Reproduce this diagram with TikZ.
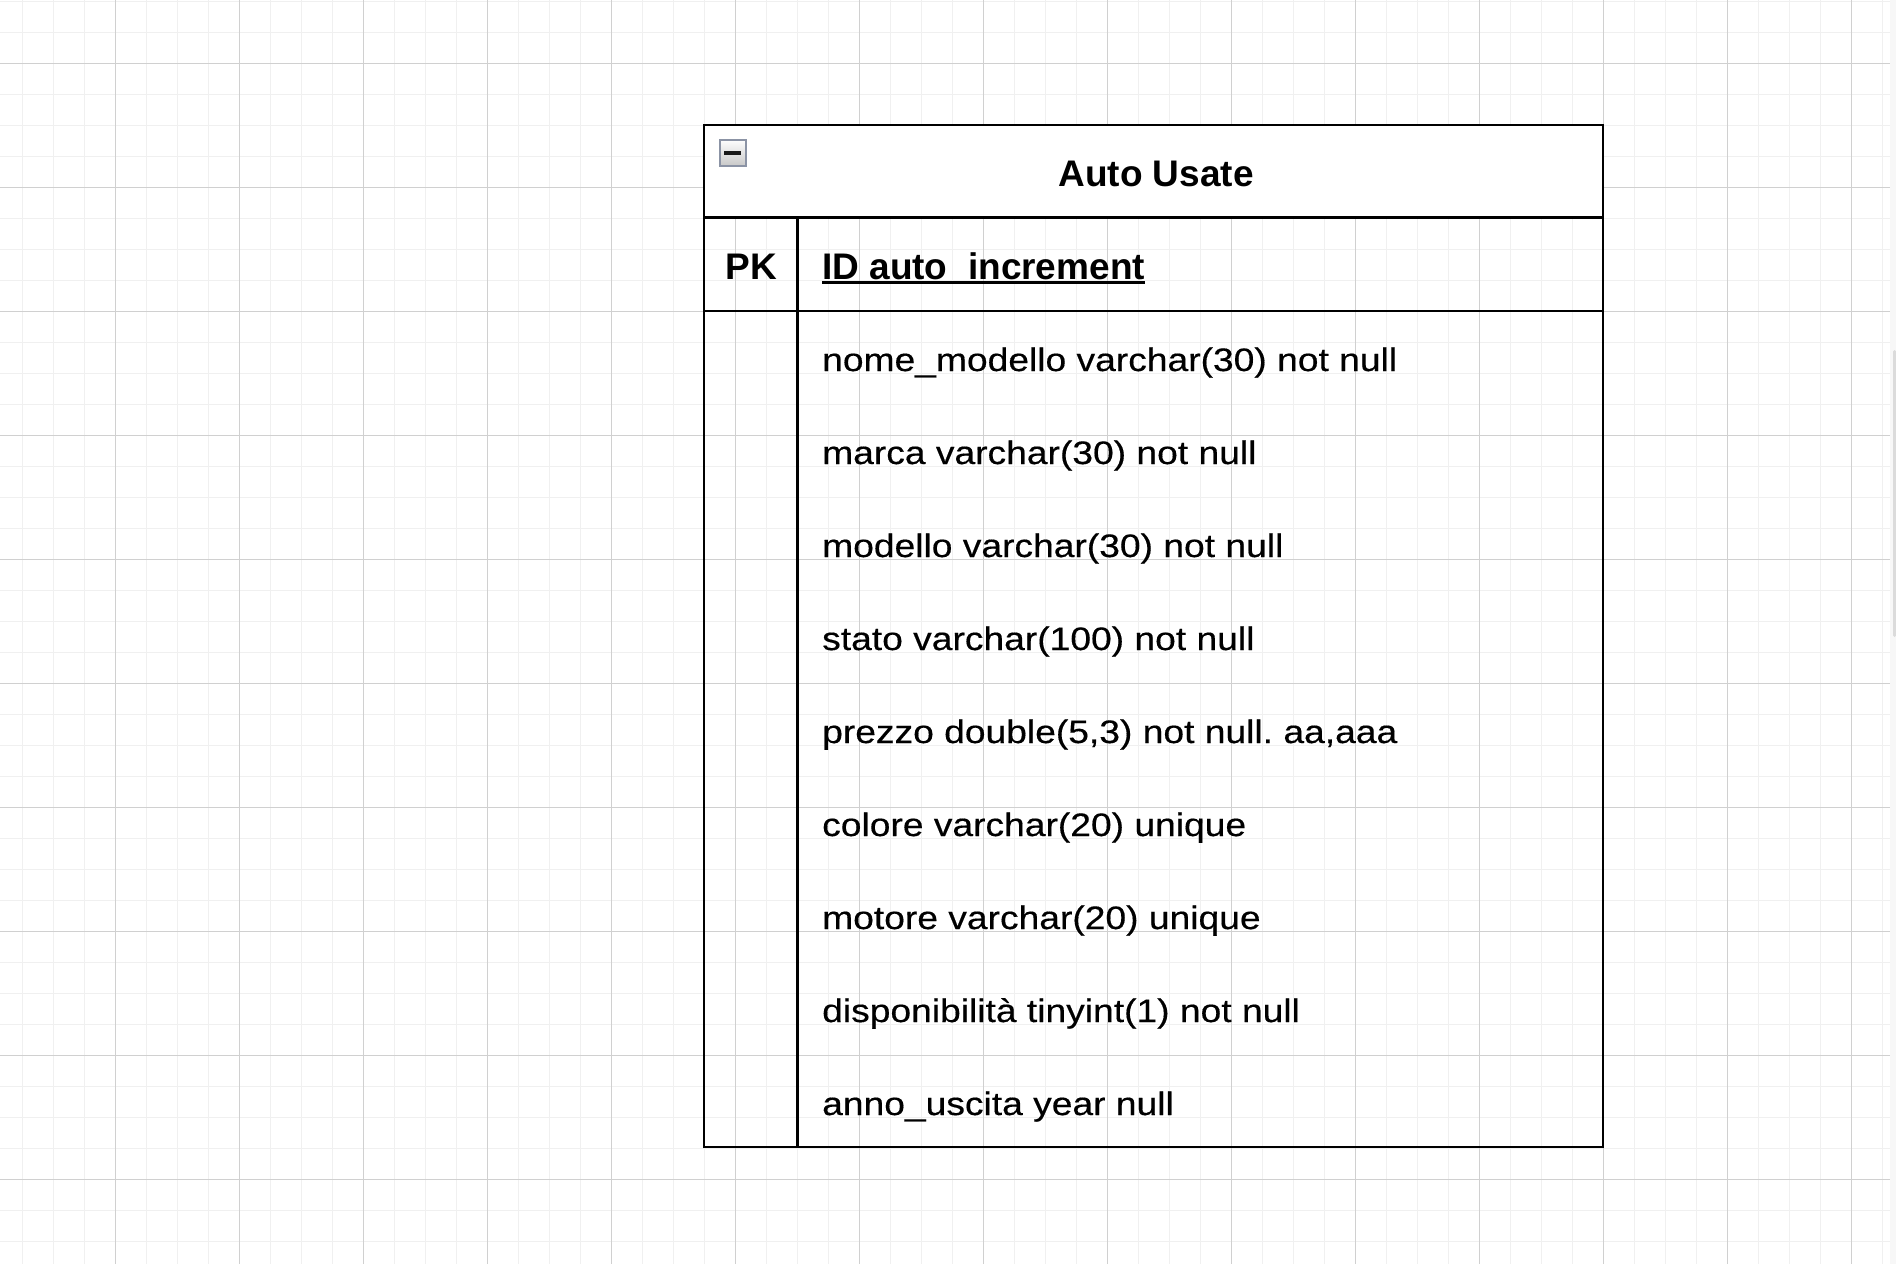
\documentclass[tikz,border=0pt]{standalone}
\usepackage{fontspec}
\setmainfont{Liberation Sans}
\newfontfamily\rowfont[FakeStretch=1.145,FakeBold=0.4]{Liberation Sans}
\definecolor{minorgrid}{HTML}{F0F0F0}
\definecolor{majorgrid}{HTML}{D0D0D0}
\definecolor{iconborder}{HTML}{8B93A5}
\tikzset{
  rowtext/.style={anchor=base west, inner sep=0pt, font=\frenchspacing\rowfont\fontsize{32.5}{36}\selectfont},
  boldtext/.style={inner sep=0pt, font=\bfseries\fontsize{37}{42}\selectfont},
  tableline/.style={line width=2.6pt, black},
}
\begin{document}
\begin{tikzpicture}[x=1pt,y=-1pt]
\useasboundingbox (0,0) rectangle (1896,1264);
\fill[white] (0,0) rectangle (1896,1264);
% minor grid
\foreach \i in {0,...,61} {
  \draw[minorgrid, line width=1.3pt] ({22.5+31*\i},0) -- ({22.5+31*\i},1264);
}
\foreach \j in {0,...,41} {
  \draw[minorgrid, line width=1.3pt] (0,{1.3+31*\j}) -- (1896,{1.3+31*\j});
}
% major grid
\foreach \i in {0,...,14} {
  \draw[majorgrid, line width=1pt] ({115.5+124*\i},0) -- ({115.5+124*\i},1264);
}
\foreach \j in {0,...,9} {
  \draw[majorgrid, line width=1pt] (0,{63.3+124*\j}) -- (1896,{63.3+124*\j});
}
% scrollbar
\fill[white!97!black] (1890,0) rectangle (1896,1264);
\fill[white!86!black, rounded corners=1.5pt] (1893,350) rectangle (1896,637);

% table geometry
\coordinate (tl) at (704,125);
\coordinate (br) at (1603,1147);
\coordinate (hl) at (704,217.5);
\coordinate (hr) at (1603,217.5);
\coordinate (pl) at (704,311);
\coordinate (pr) at (1603,311);
\coordinate (dtop) at (797.5,217.5);
\coordinate (dbot) at (797.5,1147);

% header fill
\fill[white] (tl) rectangle (hr);
% icon
\shade[top color=white, bottom color=black!22] (719,139) rectangle (746.7,166.7);
\draw[iconborder, line width=2pt] (720,140) rectangle (745.7,165.7);
\fill[black!90] (724.3,151) rectangle (741.3,155);

% table lines
\draw[tableline] (tl) rectangle (br);
\draw[tableline] (hl) -- (hr);
\draw[tableline] (pl) -- (pr);
\draw[tableline] (dtop) -- (dbot);

% texts
\node[boldtext, anchor=base] (title) at (1156,186.7) {Auto Usate};
\node[boldtext, anchor=base] (pk) at (751.5,279.3) {PK};
\node[boldtext, anchor=base west] (id) at (822,279.3) {ID auto\_increment};
\draw[line width=2.2pt] ([yshift=-3.2pt]id.base west) -- ([yshift=-3.2pt]id.base east);

\node[rowtext] (r0) at (822,371) {nome\_modello varchar(30) not null};
\node[rowtext] (r1) at (822,464) {marca varchar(30) not null};
\node[rowtext] (r2) at (822,557) {modello varchar(30) not null};
\node[rowtext] (r3) at (822,650) {stato varchar(100) not null};
\node[rowtext] (r4) at (822,743) {prezzo double(5,3) not null. aa,aaa};
\node[rowtext] (r5) at (822,836) {colore varchar(20) unique};
\node[rowtext] (r6) at (822,929) {motore varchar(20) unique};
\node[rowtext] (r7) at (822,1022) {disponibilità tinyint(1) not null};
\node[rowtext] (r8) at (822,1115) {anno\_uscita year null};
\end{tikzpicture}
\end{document}
